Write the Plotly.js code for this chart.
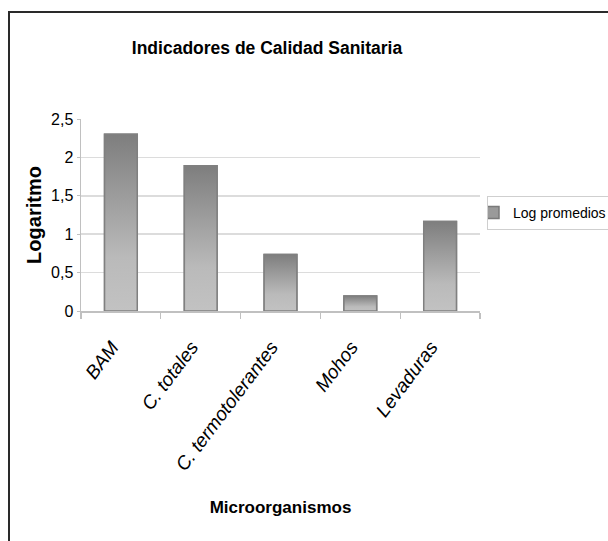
<!DOCTYPE html>
<html>
<head>
<meta charset="utf-8">
<script src="https://cdn.plot.ly/plotly-3.0.1.min.js"></script>
<style>
  html, body { margin: 0; padding: 0; background: #fff; }
  #wrap { position: relative; width: 608px; height: 541px; overflow: hidden; }
  #chart { position: absolute; left: 0; top: 0; width: 608px; height: 541px; }
  #frame { position: absolute; left: 8px; top: 11px; width: 640px; height: 600px;
           border: 2px solid #2a2a2a; pointer-events: none; box-sizing: border-box; }
</style>
</head>
<body>
<div id="wrap"><div id="chart"></div><div id="frame"></div></div>
<script>
// ---- data ----
const categories = ["BAM", "C. totales", "C. termotolerantes", "Mohos", "Levaduras"];
const logPromedios = [2.30, 1.89, 0.735, 0.195, 1.165];
const seriesName = "Log promedios";
const yTickVals = [0, 0.5, 1, 1.5, 2, 2.5];
const yTickText = ["0", "0,5", "1", "1,5", "2", "2,5"];

const SANS = "'Liberation Sans', Arial, sans-serif";
const barWidth = 0.41;

const traces = [{
  type: "bar",
  x: categories,
  y: logPromedios,
  name: seriesName,
  width: barWidth,
  marker: { color: "#9a9a9a", line: { color: "#7a7a7a", width: 1.5 } },
  hoverinfo: "x+y",
  showlegend: true
}];

// gradient overlays, one per bar, computed from the data arrays
logPromedios.forEach((v, i) => {
  const h = barWidth / 2;
  traces.push({
    type: "scatter",
    xaxis: "x2",
    x: [i - h, i - h, i + h, i + h, i - h],
    y: [0, v, v, 0, 0],
    mode: "lines",
    fill: "toself",
    fillgradient: {
      type: "vertical",
      start: 0,
      stop: v,
      colorscale: [[0, "#c2c2c2"], [0.3, "#bababa"], [1, "#7e7e7e"]]
    },
    line: { color: "#808080", width: 1.5 },
    showlegend: false,
    hoverinfo: "skip"
  });
});

const layout = {
  width: 608,
  height: 541,
  paper_bgcolor: "#ffffff",
  plot_bgcolor: "#ffffff",
  margin: { l: 81, r: 128, t: 119, b: 230 },
  title: {
    text: "<b>Indicadores de Calidad Sanitaria</b>",
    font: { family: SANS, size: 17.5, color: "#000" },
    xref: "container", x: 267 / 608, xanchor: "center",
    yref: "container", y: 1 - 48 / 541, yanchor: "middle"
  },
  xaxis: {
    type: "category",
    categoryorder: "array",
    categoryarray: categories,
    range: [-0.5, 4.5],
    tickson: "boundaries",
    ticks: "outside",
    ticklen: 6,
    tickcolor: "#c0c0c0",
    tickwidth: 1.2,
    showline: true,
    linecolor: "#c0c0c0",
    linewidth: 1.5,
    showgrid: false,
    tickangle: -53,
    ticklabelstandoff: 16,
    ticklabelshift: -9,
    tickfont: { family: SANS, size: 19, color: "#000", style: "italic" },
    title: {
      text: "<b>Microorganismos</b>",
      font: { family: SANS, size: 17, color: "#000" },
      standoff: 27
    },
    fixedrange: true
  },
  xaxis2: {
    overlaying: "x",
    range: [-0.5, 4.5],
    visible: false,
    fixedrange: true
  },
  yaxis: {
    range: [0, 2.5],
    tickmode: "array",
    tickvals: yTickVals,
    ticktext: yTickText,
    ticks: "outside",
    ticklen: 3,
    tickcolor: "#c0c0c0",
    showline: true,
    linecolor: "#c0c0c0",
    linewidth: 1.5,
    showgrid: false,
    zeroline: false,
    minor: {
      tickmode: "array",
      tickvals: [0.5, 1, 1.5, 2],
      showgrid: true,
      gridcolor: "#dcdcdc",
      gridwidth: 1.5,
      ticks: ""
    },
    tickfont: { family: SANS, size: 16, color: "#000" },
    title: {
      text: "<b>Logaritmo</b>",
      font: { family: SANS, size: 20, color: "#000" },
      standoff: 4
    },
    fixedrange: true
  },
  legend: {
    xref: "container", yref: "container",
    x: 487 / 608, xanchor: "left",
    y: 1 - 196 / 541, yanchor: "top",
    bgcolor: "#ffffff",
    bordercolor: "#cfcfcf",
    borderwidth: 1,
    indentation: -15,
    font: { family: SANS, size: 14, color: "#000" },
    itemwidth: 30,
    tracegroupgap: 0
  },
  bargap: 0.59,
  showlegend: true
};

Plotly.newPlot("chart", traces, layout, { displayModeBar: false, staticPlot: true });
</script>
</body>
</html>
